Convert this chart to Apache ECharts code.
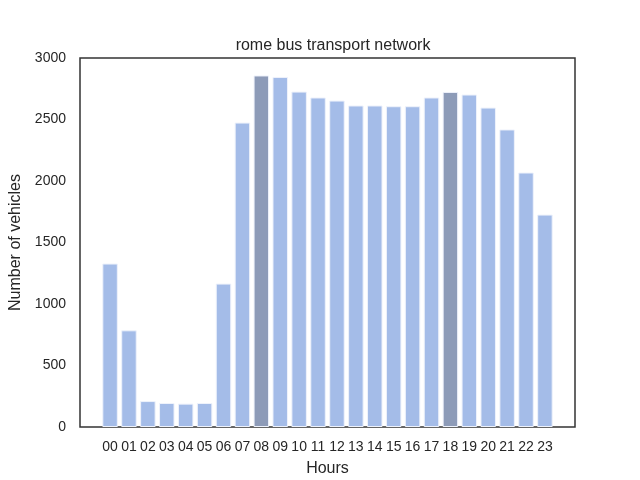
<!DOCTYPE html>
<html><head><meta charset="utf-8">
<script src="https://cdn.jsdelivr.net/npm/echarts@6/dist/echarts.min.js"></script>
<style>html,body{margin:0;padding:0;background:#fff}#c{width:640px;height:480px}</style>
</head><body><div id="c"></div>
<script>
const hours = ['00','01','02','03','04','05','06','07','08','09','10','11','12','13','14','15','16','17','18','19','20','21','22','23'];
const vehicles = [1329,786,211,195,190,195,1166,2475,2858,2846,2727,2679,2654,2614,2614,2608,2608,2679,2724,2703,2597,2419,2069,1727];
const highlighted = ['08','18'];
const yTicks = [0,500,1000,1500,2000,2500,3000];

const light = '#a4bce8', dark = '#8d9bb8';
const FONT = '"Liberation Sans", Arial, sans-serif';
const chart = echarts.init(document.getElementById('c'), null, {renderer:'canvas'});
const idx = hours.map((h,i)=>i);
chart.setOption({
  animation:false,
  backgroundColor:'#fff',
  title:{text:'rome bus transport network', left:328, top:33, textAlign:'center',
    textStyle:{fontFamily:FONT, fontSize:16, fontWeight:'normal', color:'#262626'}},
  grid:{left:80, right:65, top:58, bottom:53, show:true, borderColor:'#333', borderWidth:1.5,
    containLabel:false, outerBoundsMode:'none'},
  xAxis:{type:'value', min:-1.59, max:23+1.59, name:'Hours', nameLocation:'middle', nameGap:34,
    nameTextStyle:{fontFamily:FONT, fontSize:16, color:'#262626'},
    splitLine:{show:false}, axisLine:{show:false}, axisTick:{show:false},
    axisLabel:{customValues:idx, formatter:v=>hours[Math.round(v)], fontFamily:FONT, fontSize:14, color:'#262626', margin:13}},
  yAxis:{type:'value', min:0, max:3000, interval:500, name:'Number of vehicles', nameLocation:'middle', nameGap:50,
    nameTextStyle:{fontFamily:FONT, fontSize:16, color:'#262626'},
    splitLine:{show:false}, axisLine:{show:false}, axisTick:{show:false},
    axisLabel:{customValues:yTicks, formatter:v=>String(v), fontFamily:FONT, fontSize:14, color:'#262626', margin:14}},
  series:[{type:'bar', barWidth:15.5,
    data:vehicles.map((v,i)=>({value:[i,v], itemStyle:{color: highlighted.includes(hours[i])?dark:light}})),
    itemStyle:{borderColor:'#eef2fb', borderWidth:1}}]
});
</script></body></html>
